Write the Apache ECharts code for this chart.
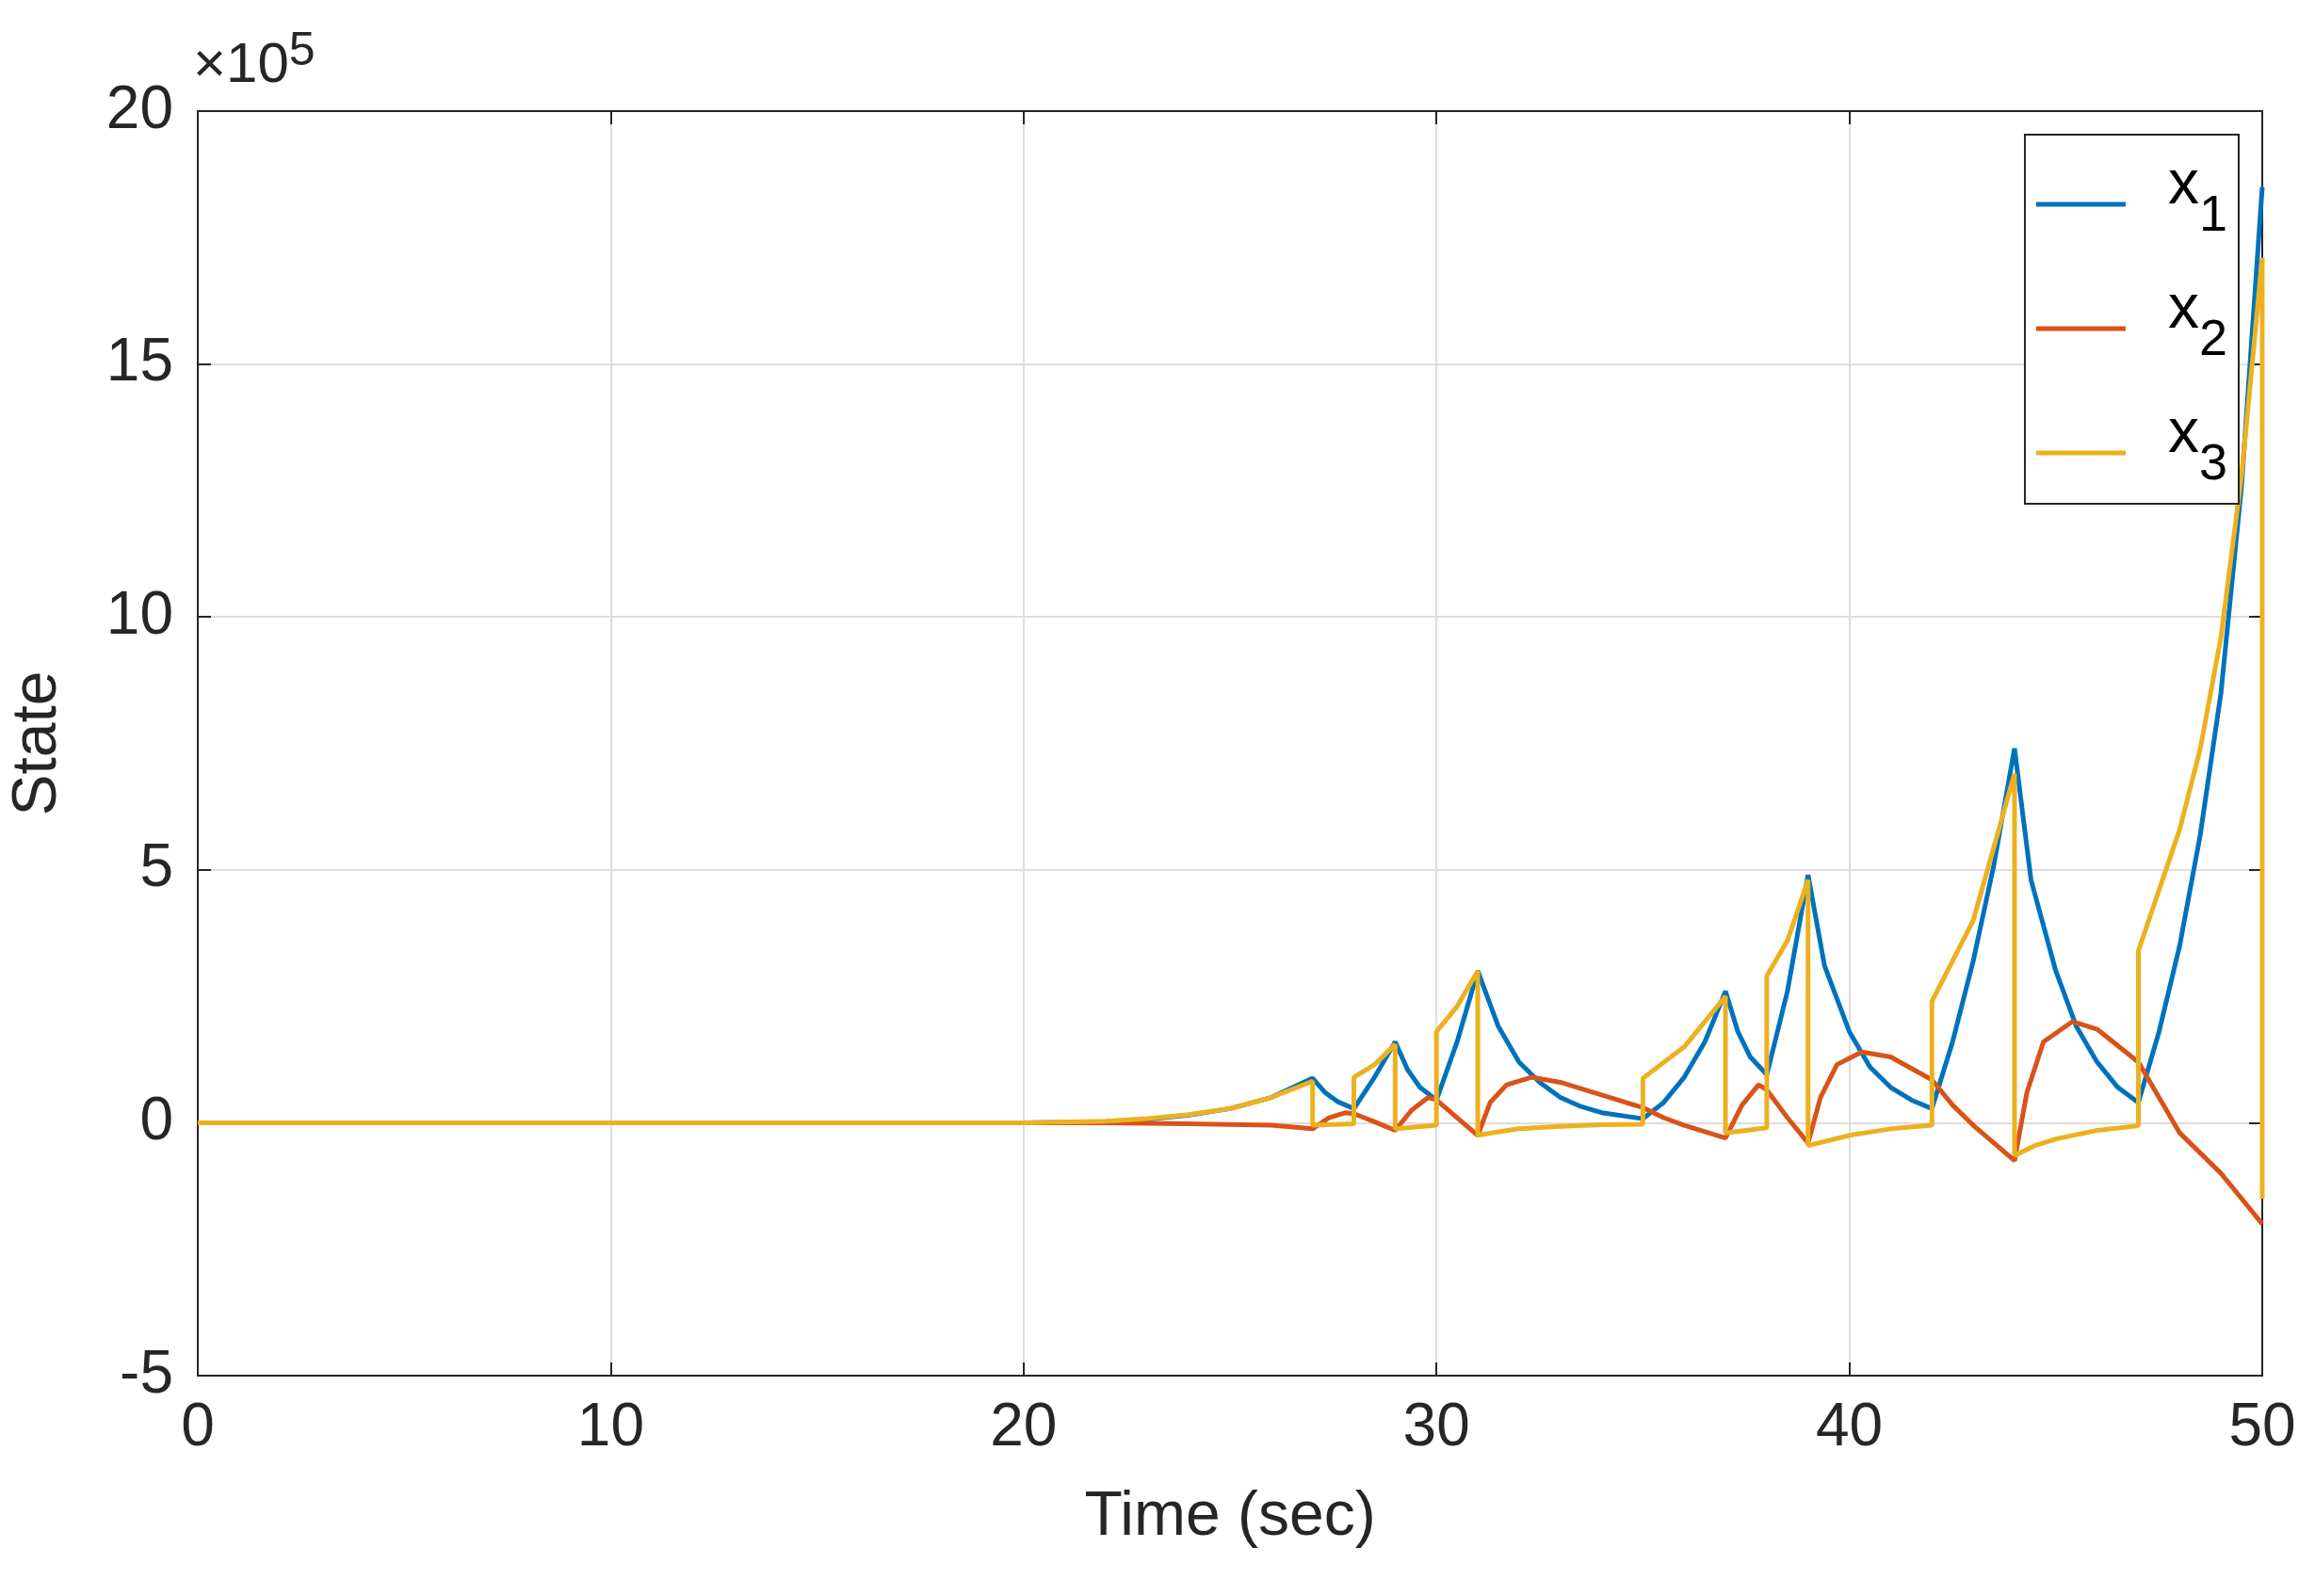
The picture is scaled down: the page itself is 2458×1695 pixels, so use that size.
<!DOCTYPE html>
<html>
<head>
<meta charset="utf-8">
<script src="https://cdn.jsdelivr.net/npm/echarts@6/dist/echarts.min.js"></script>
<style>html,body{margin:0;padding:0;background:#fff}#chart{width:2458px;height:1695px}</style>
</head>
<body>
<div id="chart"></div>
<script>
// values in units of 1e5, time in seconds
const x1Data = [
  [0, 0], [20, 0], [22, 0.02], [23, 0.07], [24, 0.15], [25, 0.28], [26, 0.5], [27, 0.88],
  [27.3, 0.6], [27.6, 0.42], [28, 0.28],
  [28.5, 0.9], [29, 1.6],
  [29.3, 1.05], [29.6, 0.7], [30, 0.45],
  [30.5, 1.6], [31, 3.0],
  [31.5, 1.9], [32, 1.2], [32.5, 0.8], [33, 0.5], [33.5, 0.32], [34, 0.2], [35, 0.08],
  [35.5, 0.4], [36, 0.9], [36.5, 1.6], [37, 2.6],
  [37.3, 1.8], [37.6, 1.3], [38, 0.95],
  [38.5, 2.6], [39, 4.9],
  [39.4, 3.1], [40, 1.8], [40.5, 1.1], [41, 0.7], [41.5, 0.45], [42, 0.28],
  [42.5, 1.6], [43, 3.2], [43.5, 5.1], [44, 7.4],
  [44.4, 4.8], [45, 3.0], [45.5, 1.9], [46, 1.2], [46.5, 0.7], [47, 0.4],
  [47.5, 1.8], [48, 3.5], [48.5, 5.7], [49, 8.5], [49.5, 12.6], [50, 18.5]
];
const x2Data = [
  [0, 0], [22, 0], [24, -0.02], [26, -0.05], [27, -0.12],
  [27.4, 0.1], [27.8, 0.2], [28, 0.18], [28.5, 0.02], [29, -0.15],
  [29.4, 0.25], [29.8, 0.5], [30, 0.45], [30.5, 0.1], [31, -0.25],
  [31.3, 0.4], [31.7, 0.75], [32.3, 0.9], [33, 0.8], [34, 0.55], [35, 0.3],
  [35.5, 0.1], [36, -0.05], [37, -0.3],
  [37.4, 0.35], [37.8, 0.75], [38, 0.65], [38.5, 0.1], [39, -0.4],
  [39.3, 0.5], [39.7, 1.15], [40.3, 1.4], [41, 1.3], [42, 0.85],
  [42.5, 0.35], [43, -0.05], [43.5, -0.4], [44, -0.75],
  [44.3, 0.6], [44.7, 1.6], [45.4, 2.0], [46, 1.85], [47, 1.2],
  [47.5, 0.5], [48, -0.2], [48.5, -0.6], [49, -1.0], [49.5, -1.5], [50, -2.0]
];
const x3Data = [
  [0, 0], [20, 0], [22, 0.03], [23, 0.08], [24, 0.16], [25, 0.28], [26, 0.5], [27, 0.82],
  [27, -0.05], [28, -0.02],
  [28, 0.9], [28.5, 1.15], [29, 1.55],
  [29, -0.12], [30, -0.05],
  [30, 1.8], [30.5, 2.3], [31, 3.0],
  [31, -0.25], [31.5, -0.18], [32, -0.12], [33, -0.07], [34, -0.04], [35, -0.03],
  [35, 0.88], [36, 1.5], [37, 2.5],
  [37, -0.2], [38, -0.1],
  [38, 2.9], [38.5, 3.6], [39, 4.8],
  [39, -0.45], [39.5, -0.35], [40, -0.25], [41, -0.12], [42, -0.05],
  [42, 2.4], [43, 4.0], [44, 6.9],
  [44, -0.65], [44.5, -0.45], [45, -0.32], [46, -0.15], [47, -0.06],
  [47, 3.4], [48, 5.8], [48.5, 7.4], [49, 9.6], [49.5, 12.8], [50, 17.1],
  [50, -1.5]
];
const seriesNames = ['x1', 'x2', 'x3'];
const seriesColors = ['#0072BD', '#D95319', '#EDB120'];

const font = 'Arial, "Liberation Sans", sans-serif';
const axisCol = '#262626';
const chart = echarts.init(document.getElementById('chart'));
const mkSeries = (name, data, color) => ({
  name, type: 'line', data, xAxisIndex: 0, yAxisIndex: 0,
  showSymbol: false, symbol: 'none', animation: false,
  lineStyle: { color, width: 5 }, itemStyle: { color }
});
const frameAxis = {
  axisLine: { show: true, onZero: false, lineStyle: { color: axisCol, width: 2 } },
  axisTick: { show: true, inside: true, length: 14, lineStyle: { color: axisCol, width: 2 } },
  axisLabel: { show: false }, splitLine: { show: false }
};
chart.setOption({
  animation: false,
  textStyle: { fontFamily: font },
  grid: { left: 202, right: 56, top: 118, bottom: 234, containLabel: false },
  graphic: [{
    type: 'text', left: 205, top: 30,
    style: { text: '×10{s|5}', font: '60px ' + font, fill: axisCol,
      rich: { s: { fontSize: 50, verticalAlign: 'top', padding: [0, 0, 30, 0] } } }
  }],
  legend: {
    orient: 'vertical', right: 81, top: 143,
    backgroundColor: '#fff', borderColor: axisCol, borderWidth: 2,
    padding: [22, 12, 14, 12], itemGap: 40, itemWidth: 95, itemHeight: 5,
    icon: 'rect',
    data: seriesNames,
    formatter: n => '{m|x}{sub|' + n.slice(1) + '}',
    textStyle: {
      color: '#000', padding: [0, 0, 0, 40],
      rich: {
        m: { fontSize: 66, verticalAlign: 'bottom', padding: [0, 0, 26, 0], lineHeight: 80 },
        sub: { fontSize: 54, verticalAlign: 'bottom', lineHeight: 80 }
      }
    }
  },
  xAxis: [Object.assign({
    type: 'value', min: 0, max: 50, interval: 10,
    name: 'Time (sec)', nameLocation: 'middle', nameGap: 118,
    nameTextStyle: { fontSize: 66, color: axisCol },
    splitLine: { show: true, lineStyle: { color: '#dedede', width: 2 } }
  }, {
    axisLine: frameAxis.axisLine, axisTick: frameAxis.axisTick,
    axisLabel: { fontSize: 64, color: axisCol, margin: 24 }
  }), Object.assign({
    type: 'value', min: 0, max: 50, interval: 10, position: 'top'
  }, frameAxis)],
  yAxis: [Object.assign({
    type: 'value', min: -5, max: 20, interval: 5,
    name: 'State', nameLocation: 'middle', nameGap: 136, nameRotate: 90,
    nameTextStyle: { fontSize: 66, color: axisCol },
    splitLine: { show: true, lineStyle: { color: '#dedede', width: 2 } }
  }, {
    axisLine: frameAxis.axisLine, axisTick: frameAxis.axisTick,
    axisLabel: { fontSize: 64, color: axisCol, margin: 26 }
  }), Object.assign({
    type: 'value', min: -5, max: 20, interval: 5, position: 'right'
  }, frameAxis)],
  series: [
    mkSeries(seriesNames[0], x1Data, seriesColors[0]),
    mkSeries(seriesNames[1], x2Data, seriesColors[1]),
    mkSeries(seriesNames[2], x3Data, seriesColors[2])
  ]
});
</script>
</body>
</html>
